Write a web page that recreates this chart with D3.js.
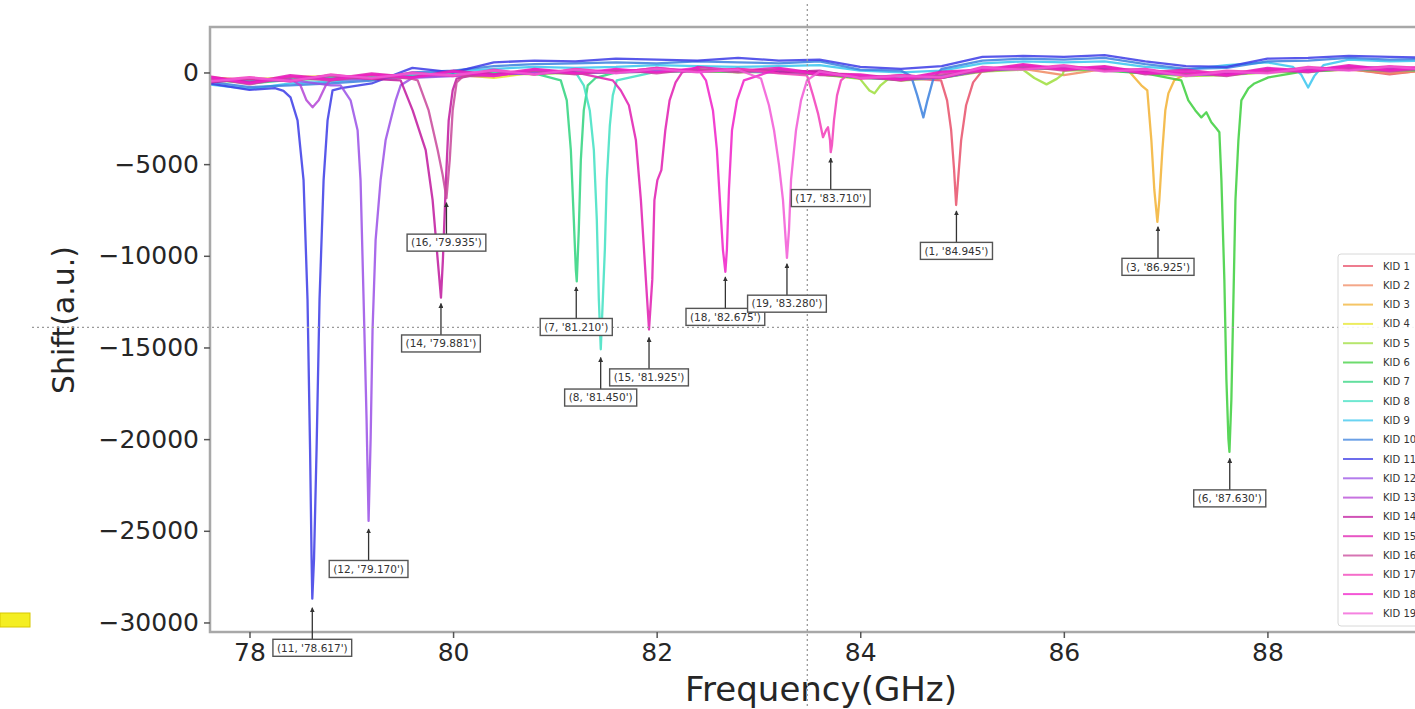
<!DOCTYPE html>
<html>
<head>
<meta charset="utf-8">
<script src="https://cdn.jsdelivr.net/npm/d3@7"></script>
<style>
  html, body { margin: 0; padding: 0; background: #fff; }
  svg { display: block; font-family: "DejaVu Sans", sans-serif; }
</style>
</head>
<body>
<svg id="chart" width="1415" height="709"></svg>
<script>
// baseline readings share one frequency grid (GHz)
const gridFreqs = [77.6, 78.0, 78.4, 78.8, 79.2, 79.6, 80.0, 80.4, 80.8, 81.2, 81.6, 82.0, 82.4, 82.8, 83.2,
  83.6, 84.0, 84.4, 84.8, 85.2, 85.6, 86.0, 86.4, 86.8, 87.2, 87.6, 88.0, 88.4, 88.8, 89.2, 89.6];

const kidNames = ['KID 1', 'KID 2', 'KID 3', 'KID 4', 'KID 5', 'KID 6', 'KID 7', 'KID 8', 'KID 9', 'KID 10',
  'KID 11', 'KID 12', 'KID 13', 'KID 14', 'KID 15', 'KID 16', 'KID 17', 'KID 18', 'KID 19'];
const kidColors = ['#e8506a', '#f08a62', '#f2b233', '#e6e62a', '#9ede3c', '#3ccf3c', '#2fd47e', '#3fe0c2', '#38c6ee', '#3a80de',
  '#3b3be6', '#9a50e6', '#b444d6', '#c0189e', '#e01cb0', '#c8469a', '#f23cb8', '#f01ec8', '#f258d6'];

// baseline shift of each KID on gridFreqs
const baseKid1 = [-300, -400, -350, -200, -250, -100, -150, 0, -50, 50, 0, 150, 50, 100, 0, -50, -300, -300, -150, 100, 250, 300, 150, 50, -150, -50, 50, 150, 200, -100, 150];
const baseKid2 = [-250, -450, -300, -300, -150, -200, -50, -100, 50, 0, 100, 50, 150, 50, 100, 0, -200, -400, -250, 150, 200, -150, 200, 0, -50, -150, 100, 50, 150, -50, 100];
const baseKid3 = [-350, -500, -250, -200, -200, -150, -100, 0, 0, 50, 50, 100, 100, 50, 50, -50, -250, -350, -200, 200, 300, 250, 200, 0, -100, -100, 50, 100, 250, 150, 200];
const baseKid4 = [-400, -350, -300, -250, -400, -150, -100, -300, 0, -50, 50, 100, 50, 100, 50, 0, -200, -300, -250, 100, 250, 200, 250, 0, -100, -100, 50, 100, 250, 150, 200];
const baseKid5 = [-300, -550, -350, -300, -250, -200, -150, -50, -100, 0, 50, 50, 100, 0, 50, -100, -350, -450, -300, 50, 150, 100, 150, -50, -200, -150, 0, 50, 200, 100, 150];
const baseKid6 = [-450, -500, -400, -250, -300, -200, -100, -50, 0, -50, 0, 100, 50, 50, 0, -100, -300, -400, -250, 150, 200, 250, 100, -50, -150, -200, 0, 100, 150, 100, 200];
const baseKid7 = [-350, -600, -400, -350, -300, -250, -150, -100, -50, 0, 0, 50, 100, 100, 50, -50, -250, -350, -300, 100, 250, 200, 150, -50, -100, -150, 100, 50, 200, 150, 100];
const baseKid8 = [-400, -500, -350, -300, -250, -200, -50, -50, 0, 50, 50, 50, 100, 50, 0, 0, -200, -300, -200, 200, 300, 200, 200, 0, -150, -100, 50, 150, 300, 200, 250];
const baseKid9 = [-650, -900, -600, -500, -350, -100, 50, 200, 300, 250, 300, 400, 350, 300, 350, 400, 100, 0, 100, 500, 600, 550, 600, 300, 150, 400, 550, 300, 700, 600, 650];
const baseKid10 = [-500, -800, -700, -600, -450, 0, 100, 350, 450, 500, 550, 500, 600, 550, 500, 600, 150, 100, 200, 650, 750, 700, 800, 450, 200, 250, 600, 650, 800, 700, 750];
const baseKid11 = [-600, -950, -850, -900, -600, 250, 0, 550, 650, 600, 750, 700, 650, 800, 650, 700, 300, 200, 350, 850, 900, 850, 950, 600, 350, 300, 750, 800, 900, 850, 800];
const baseKid12 = [-350, -500, -400, -700, -650, -300, -200, -100, -50, 0, 50, 100, 50, 150, 100, 0, -300, -350, -200, 150, 250, 300, 200, 50, -100, -50, 100, 150, 300, 250, 200];
const baseKid13 = [-300, -550, -350, -400, -350, -250, -150, -100, 0, -50, 0, 50, 100, 100, 0, -50, -250, -400, -300, 100, 200, 250, 150, 0, -150, -100, 50, 100, 200, 150, 250];
const baseKid14 = [-550, -350, -450, -150, -350, -50, -200, 100, -100, 150, 0, 250, 50, 200, 0, 100, -300, -150, -300, 250, 200, 350, 150, 150, -150, 50, 0, 250, 150, 300, 200];
const baseKid15 = [-200, -550, -150, -350, -50, -250, 100, -100, 200, 0, 250, 50, 300, 100, 250, -50, -100, -350, 50, 150, 450, 200, 350, 0, 150, -100, 250, 100, 400, 150, 350];
const baseKid16 = [-300, -650, -250, -450, -150, -350, 0, -200, 100, -100, 150, -50, 200, 0, 150, -150, -200, -450, -100, 50, 350, 100, 300, -100, 0, -200, 150, 0, 300, 50, 250];
const baseKid17 = [-450, -250, -500, -100, -350, 0, -200, 150, -100, 200, 0, 250, 50, 200, -50, 100, -350, -150, -300, 300, 200, 400, 100, 200, -150, 100, 0, 300, 150, 350, 200];
const baseKid18 = [-250, -600, -200, -400, -100, -300, 50, -200, 150, -50, 200, 0, 250, 50, 200, -100, -150, -400, 0, 100, 400, 150, 300, -50, 50, -150, 200, 50, 350, 100, 300];
const baseKid19 = [-500, -300, -450, -150, -300, -50, -150, 100, -100, 150, -50, 200, 0, 150, -50, 50, -300, -200, -250, 250, 150, 350, 50, 150, -200, 50, -50, 250, 100, 300, 150];

// resonance dips, [frequency, shift]
const dipKid1 = [[[84.794, -430], [84.853, -1520], [84.893, -3150], [84.922, -5330], [84.942, -7230], [84.961, -5870], [84.991, -3700], [85.040, -1790], [85.109, -540]]];
const dipKid2 = [];
const dipKid3 = [[[86.633, 110], [86.761, -700], [86.820, -980], [86.860, -3700], [86.889, -6410], [86.919, -8150], [86.938, -6960], [86.968, -4240], [86.997, -2070], [87.027, -1140], [87.085, -430]]];
const dipKid4 = [];
const dipKid5 = [[[84.01, -430], [84.09, -980], [84.14, -1140], [84.20, -700], [84.28, -330]],
  [[85.71, -300], [85.83, -650], [85.93, -350], [85.99, -100]]];
const dipKid6 = [[[87.154, -430], [87.223, -1520], [87.292, -2070], [87.351, -2450], [87.400, -2170], [87.449, -2720], [87.498, -3040], [87.528, -3260],
  [87.548, -5870], [87.577, -11300], [87.597, -16740], [87.617, -20000], [87.627, -20700], [87.646, -17830], [87.666, -12390], [87.686, -6960],
  [87.715, -3700], [87.744, -1520], [87.813, -870], [87.872, -600], [88.010, -270]]];
const dipKid7 = [[[81.058, -430], [81.117, -1520], [81.157, -4240], [81.186, -8040], [81.206, -10760], [81.215, -11400], [81.235, -8590], [81.255, -4780], [81.284, -2070], [81.323, -700], [81.40, -300]]];
const dipKid8 = [[[81.284, -700], [81.343, -2070], [81.383, -4240], [81.412, -8040], [81.432, -12390], [81.451, -15100], [81.471, -12390], [81.491, -9670], [81.510, -5870], [81.540, -2880], [81.569, -1250], [81.608, -430]]];
const dipKid9 = [[[88.25, 300], [88.33, -100], [88.40, -820], [88.46, -200], [88.55, 400]]];
const dipKid10 = [[[84.50, -200], [84.56, -1250], [84.62, -2450], [84.66, -1520], [84.72, -300]]];
const dipKid11 = [[[78.25, -850], [78.334, -1000], [78.403, -1360], [78.472, -2610], [78.531, -5870], [78.570, -12390], [78.595, -20540], [78.610, -26520],
  [78.617, -28700], [78.634, -26520], [78.659, -20540], [78.688, -12390], [78.728, -5870], [78.767, -2610], [78.816, -980], [78.90, -850]]];
const dipKid12 = [[[78.895, -700], [78.993, -1520], [79.062, -3150], [79.091, -5870], [79.121, -12390], [79.150, -18910], [79.170, -24460], [79.190, -20000],
  [79.209, -14020], [79.239, -9130], [79.288, -5870], [79.337, -3700], [79.386, -2610], [79.436, -1520], [79.485, -700]]];
const dipKid13 = [[[78.50, -700], [78.56, -1520], [78.62, -1900], [78.68, -1520], [78.75, -700]]];
const dipKid14 = [[[79.485, -430], [79.603, -2070], [79.731, -4240], [79.799, -6960], [79.849, -10220], [79.881, -12280], [79.900, -10220], [79.930, -5870], [79.957, -2610], [79.996, -980], [80.035, -330]]];
const dipKid15 = [[[81.569, -430], [81.648, -980], [81.727, -1790], [81.796, -3700], [81.845, -6960], [81.894, -11300], [81.925, -14020], [81.957, -11300],
  [81.978, -6960], [82.007, -5870], [82.046, -5330], [82.085, -3150], [82.127, -1520], [82.186, -540], [82.25, 0]]];
const dipKid16 = [[[79.652, -430], [79.760, -2070], [79.849, -4240], [79.898, -5600], [79.935, -6850], [79.967, -4780], [79.996, -2070], [80.035, -540], [80.10, -200]]];
const dipKid17 = [[[83.477, -160], [83.536, -1250], [83.585, -2230], [83.634, -3530], [83.664, -3150], [83.683, -2990], [83.703, -3700], [83.710, -4350],
  [83.722, -3970], [83.742, -2610], [83.772, -1250], [83.811, -430], [83.88, -100]]];
const dipKid18 = [[[82.484, -430], [82.553, -2070], [82.592, -4240], [82.621, -6960], [82.651, -9670], [82.675, -10870], [82.690, -9670], [82.710, -6410], [82.740, -3150], [82.789, -1520], [82.857, -430]]];
const dipKid19 = [[[83.025, -330], [83.103, -1790], [83.153, -3150], [83.202, -5050], [83.241, -6960], [83.271, -9400], [83.280, -10110], [83.300, -8590],
  [83.320, -5870], [83.369, -3150], [83.418, -1520], [83.477, -430]]];

// annotated minima
const annoKids = [1, 3, 6, 7, 8, 11, 12, 14, 15, 16, 17, 18, 19];
const annoFreqs = ['84.945', '86.925', '87.630', '81.210', '81.450', '78.617', '79.170', '79.881', '81.925', '79.935', '83.710', '82.675', '83.280'];
const annoShifts = [-7550, -8420, -21050, -11700, -15550, -29200, -24900, -12600, -14450, -7100, -4670, -11150, -10430];

const xTicks = [78, 80, 82, 84, 86, 88];
const yTicks = [0, -5000, -10000, -15000, -20000, -25000, -30000];

// cursor crosshair seen in the screenshot
const crossFreq = 83.48;
const crossShift = -13900;

const baseAll = [baseKid1, baseKid2, baseKid3, baseKid4, baseKid5, baseKid6, baseKid7, baseKid8, baseKid9, baseKid10,
  baseKid11, baseKid12, baseKid13, baseKid14, baseKid15, baseKid16, baseKid17, baseKid18, baseKid19];
const dipAll = [dipKid1, dipKid2, dipKid3, dipKid4, dipKid5, dipKid6, dipKid7, dipKid8, dipKid9, dipKid10,
  dipKid11, dipKid12, dipKid13, dipKid14, dipKid15, dipKid16, dipKid17, dipKid18, dipKid19];

// grid points outside the dip ranges + the dip points
function seriesPoints(base, dipGroups) {
  const ranges = dipGroups.map(g => [g[0][0], g[g.length - 1][0]]);
  const pts = gridFreqs.map((f, i) => [f, base[i]])
    .filter(([f]) => !ranges.some(([a, b]) => f >= a && f <= b));
  dipGroups.forEach(g => pts.push(...g));
  return pts.sort((a, b) => a[0] - b[0]);
}

const svg = d3.select('#chart');
const plot = { left: 210, top: 27, right: 1471, bottom: 632 };

const x = d3.scaleLinear().domain([77.612, 90.0]).range([plot.left, plot.right]);
const y = d3.scaleLinear().domain([-30520, 2480]).range([plot.bottom, plot.top]);

const defs = svg.append('defs');
defs.append('clipPath').attr('id', 'clip')
  .append('rect')
  .attr('x', plot.left).attr('y', plot.top)
  .attr('width', plot.right - plot.left).attr('height', plot.bottom - plot.top);

defs.append('marker')
  .attr('id', 'arrowhead')
  .attr('viewBox', '0 0 10 10')
  .attr('refX', 9).attr('refY', 5)
  .attr('markerWidth', 5).attr('markerHeight', 5)
  .attr('markerUnits', 'userSpaceOnUse')
  .attr('orient', 'auto')
  .append('path')
  .attr('d', 'M0,0 L10,5 L0,10 z')
  .attr('fill', '#333');

// traces
const line = d3.line().x(d => x(d[0])).y(d => y(d[1]));
const traces = svg.append('g').attr('clip-path', 'url(#clip)');
kidNames.forEach((name, i) => {
  traces.append('path')
    .datum(seriesPoints(baseAll[i], dipAll[i]))
    .attr('d', line)
    .attr('fill', 'none')
    .attr('stroke', kidColors[i])
    .attr('stroke-width', 2.3)
    .attr('stroke-opacity', 0.85)
    .attr('stroke-linejoin', 'round');
});

// frame
svg.append('rect')
  .attr('x', plot.left).attr('y', plot.top)
  .attr('width', plot.right - plot.left).attr('height', plot.bottom - plot.top)
  .attr('fill', 'none').attr('stroke', '#a8a8a8').attr('stroke-width', 2.5);

// axes
const xAxis = svg.append('g')
  .attr('transform', `translate(0,${plot.bottom})`)
  .call(d3.axisBottom(x).tickValues(xTicks).tickSize(6).tickPadding(5).tickFormat(d3.format('d')));
const yAxis = svg.append('g')
  .attr('transform', `translate(${plot.left},0)`)
  .call(d3.axisLeft(y).tickValues(yTicks).tickSize(6).tickPadding(5)
    .tickFormat(d => d === 0 ? '0' : '\u2212' + Math.abs(d)));
[xAxis, yAxis].forEach(ax => {
  ax.select('.domain').remove();
  ax.selectAll('.tick line').attr('stroke', '#555').attr('stroke-width', 1.5);
  ax.selectAll('.tick text')
    .attr('fill', '#262626')
    .style('font-size', '25px')
    .style('font-family', '"DejaVu Sans", sans-serif');
});

svg.append('text')
  .attr('x', 821).attr('y', 701)
  .attr('text-anchor', 'middle')
  .attr('fill', '#262626')
  .style('font-size', '34px')
  .text('Frequency(GHz)');
svg.append('text')
  .attr('transform', 'translate(74,320) rotate(-90)')
  .attr('text-anchor', 'middle')
  .attr('fill', '#262626')
  .style('font-size', '30px')
  .text('Shift(a.u.)');

// crosshair (dotted)
svg.append('line')
  .attr('x1', x(crossFreq)).attr('x2', x(crossFreq))
  .attr('y1', 4).attr('y2', 709)
  .attr('stroke', '#9a9a9a').attr('stroke-width', 1.3).attr('stroke-dasharray', '2,3');
svg.append('line')
  .attr('x1', 32).attr('x2', 1415)
  .attr('y1', y(crossShift)).attr('y2', y(crossShift))
  .attr('stroke', '#9a9a9a').attr('stroke-width', 1.3).attr('stroke-dasharray', '2,3');

// annotations
const annos = svg.append('g');
annoKids.forEach((kid, i) => {
  const ax = x(+annoFreqs[i]);
  const ay = y(annoShifts[i]);
  const boxY = ay + 40;
  const g = annos.append('g');
  g.append('line')
    .attr('x1', ax).attr('x2', ax)
    .attr('y1', boxY - 8).attr('y2', ay)
    .attr('stroke', '#333').attr('stroke-width', 1.3)
    .attr('marker-end', 'url(#arrowhead)');
  const t = g.append('text')
    .attr('x', ax).attr('y', boxY + 3.8)
    .attr('text-anchor', 'middle')
    .attr('fill', '#333')
    .style('font-size', '10.5px')
    .text(`(${kid}, '${annoFreqs[i]}')`);
  const w = t.node().getComputedTextLength() + 8;
  g.insert('rect', 'text')
    .attr('x', ax - w / 2).attr('y', boxY - 8.5)
    .attr('width', w).attr('height', 17)
    .attr('fill', '#fff').attr('stroke', '#555').attr('stroke-width', 1.4);
});

// legend
const legend = svg.append('g').attr('transform', 'translate(1338,254)');
legend.append('rect')
  .attr('width', 110).attr('height', 372).attr('rx', 3)
  .attr('fill', '#fff').attr('fill-opacity', 0.9)
  .attr('stroke', '#d8d8d8').attr('stroke-width', 1);
kidNames.forEach((name, i) => {
  const row = legend.append('g').attr('transform', `translate(0,${12 + i * 19.3})`);
  row.append('line')
    .attr('x1', 5).attr('x2', 35)
    .attr('stroke', kidColors[i]).attr('stroke-width', 2).attr('stroke-opacity', 0.75);
  row.append('text')
    .attr('x', 45).attr('y', 3.5)
    .attr('fill', '#333')
    .style('font-size', '10px')
    .text(name);
});

// yellow marker at the left edge of the screenshot
svg.append('rect')
  .attr('x', 0).attr('y', 613).attr('width', 30).attr('height', 14)
  .attr('fill', '#f4ee22').attr('stroke', '#d8c800').attr('stroke-width', 1);
</script>
</body>
</html>
